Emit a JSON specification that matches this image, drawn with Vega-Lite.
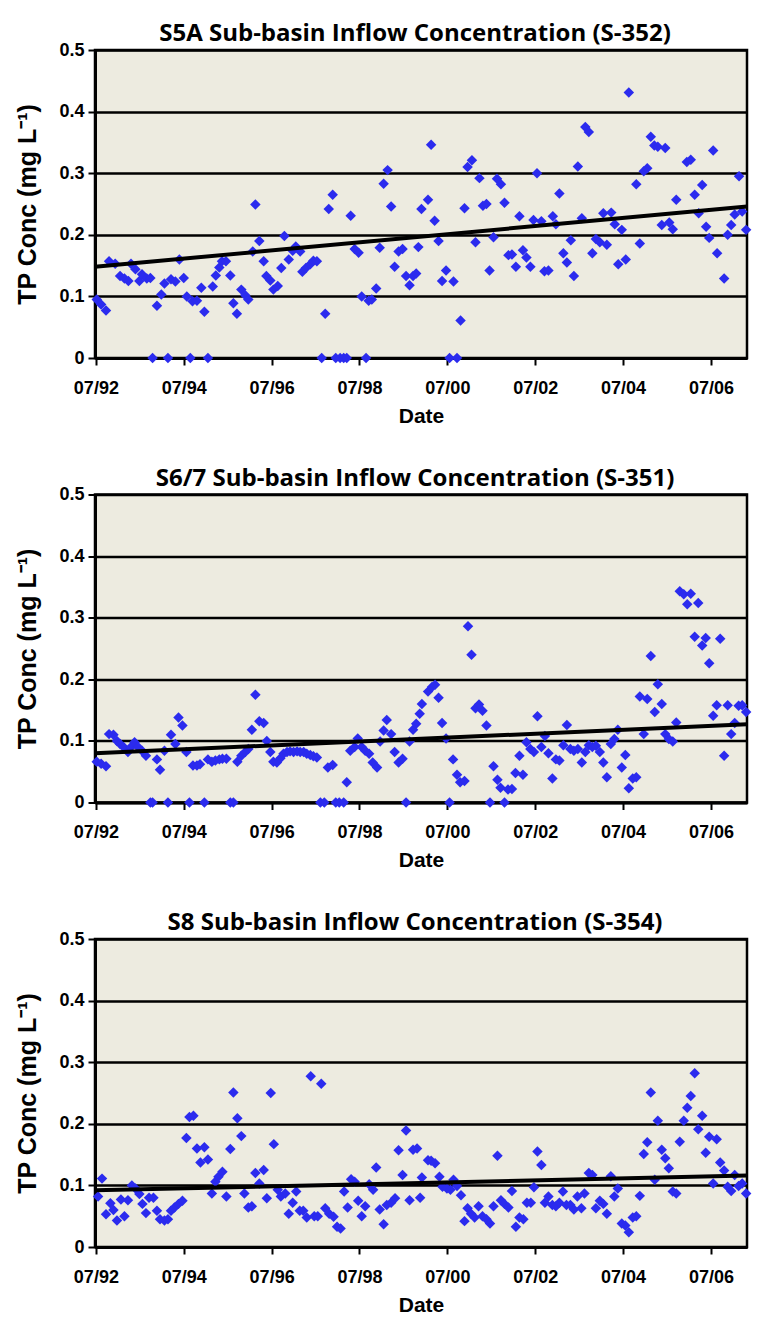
{
  "$schema": "https://vega.github.io/schema/vega-lite/v6.json",
  "background": "white",
  "padding": {"left": 14, "top": 20, "right": 0, "bottom": 0},
  "spacing": 36.5,
  "datasets": {
    "s5a": [
      {"yr":1992.52,"tp":0.095},{"yr":1992.62,"tp":0.087},{"yr":1992.73,"tp":0.077},{"yr":1992.80,"tp":0.157},{"yr":1992.94,"tp":0.153},
      {"yr":1993.05,"tp":0.133},{"yr":1993.15,"tp":0.129},{"yr":1993.24,"tp":0.125},{"yr":1993.30,"tp":0.153},{"yr":1993.40,"tp":0.144},
      {"yr":1993.49,"tp":0.125},{"yr":1993.55,"tp":0.136},{"yr":1993.66,"tp":0.129},{"yr":1993.74,"tp":0.13},{"yr":1993.79,"tp":0},
      {"yr":1993.89,"tp":0.085},{"yr":1993.99,"tp":0.103},{"yr":1994.06,"tp":0.121},{"yr":1994.14,"tp":0},{"yr":1994.21,"tp":0.128},
      {"yr":1994.31,"tp":0.124},{"yr":1994.40,"tp":0.16},{"yr":1994.50,"tp":0.13},{"yr":1994.57,"tp":0.10},{"yr":1994.65,"tp":0},
      {"yr":1994.70,"tp":0.092},{"yr":1994.80,"tp":0.093},{"yr":1994.90,"tp":0.114},{"yr":1994.97,"tp":0.075},{"yr":1995.05,"tp":0},
      {"yr":1995.16,"tp":0.116},{"yr":1995.23,"tp":0.134},{"yr":1995.31,"tp":0.147},{"yr":1995.37,"tp":0.157},{"yr":1995.46,"tp":0.157},
      {"yr":1995.56,"tp":0.134},{"yr":1995.63,"tp":0.089},{"yr":1995.71,"tp":0.072},{"yr":1995.81,"tp":0.111},{"yr":1995.90,"tp":0.102},
      {"yr":1995.97,"tp":0.095},{"yr":1996.07,"tp":0.173},{"yr":1996.13,"tp":0.249},{"yr":1996.22,"tp":0.19},{"yr":1996.32,"tp":0.157},
      {"yr":1996.38,"tp":0.133},{"yr":1996.47,"tp":0.126},{"yr":1996.54,"tp":0.111},{"yr":1996.64,"tp":0.117},{"yr":1996.72,"tp":0.146},
      {"yr":1996.79,"tp":0.198},{"yr":1996.89,"tp":0.16},{"yr":1996.98,"tp":0.174},{"yr":1997.05,"tp":0.181},{"yr":1997.15,"tp":0.173},
      {"yr":1997.20,"tp":0.14},{"yr":1997.28,"tp":0.146},{"yr":1997.38,"tp":0.152},{"yr":1997.45,"tp":0.158},{"yr":1997.53,"tp":0.157},
      {"yr":1997.64,"tp":0},{"yr":1997.72,"tp":0.072},{"yr":1997.80,"tp":0.242},{"yr":1997.89,"tp":0.265},{"yr":1997.96,"tp":0},
      {"yr":1998.06,"tp":0},{"yr":1998.14,"tp":0},{"yr":1998.21,"tp":0},{"yr":1998.30,"tp":0.231},{"yr":1998.39,"tp":0.177},
      {"yr":1998.48,"tp":0.171},{"yr":1998.55,"tp":0.10},{"yr":1998.65,"tp":0},{"yr":1998.71,"tp":0.093},{"yr":1998.78,"tp":0.095},
      {"yr":1998.88,"tp":0.113},{"yr":1998.96,"tp":0.179},{"yr":1999.05,"tp":0.283},{"yr":1999.14,"tp":0.305},{"yr":1999.22,"tp":0.246},
      {"yr":1999.30,"tp":0.148},{"yr":1999.39,"tp":0.173},{"yr":1999.48,"tp":0.177},{"yr":1999.56,"tp":0.133},{"yr":1999.64,"tp":0.118},
      {"yr":1999.72,"tp":0.133},{"yr":1999.79,"tp":0.137},{"yr":1999.84,"tp":0.18},{"yr":1999.91,"tp":0.242},
      {"yr":2000.06,"tp":0.257},{"yr":2000.13,"tp":0.346},{"yr":2000.21,"tp":0.223},{"yr":2000.30,"tp":0.19},{"yr":2000.38,"tp":0.125},
      {"yr":2000.47,"tp":0.142},{"yr":2000.55,"tp":0},{"yr":2000.64,"tp":0.124},{"yr":2000.72,"tp":0},{"yr":2000.80,"tp":0.061},
      {"yr":2000.89,"tp":0.243},{"yr":2000.96,"tp":0.31},{"yr":2001.06,"tp":0.321},{"yr":2001.14,"tp":0.188},{"yr":2001.23,"tp":0.292},
      {"yr":2001.31,"tp":0.247},{"yr":2001.39,"tp":0.25},{"yr":2001.46,"tp":0.142},{"yr":2001.55,"tp":0.196},{"yr":2001.63,"tp":0.291},
      {"yr":2001.72,"tp":0.282},{"yr":2001.80,"tp":0.252},{"yr":2001.89,"tp":0.167},{"yr":2001.97,"tp":0.168},{"yr":2002.06,"tp":0.148},
      {"yr":2002.14,"tp":0.23},{"yr":2002.22,"tp":0.175},{"yr":2002.30,"tp":0.163},{"yr":2002.39,"tp":0.148},{"yr":2002.46,"tp":0.224},
      {"yr":2002.54,"tp":0.30},{"yr":2002.64,"tp":0.222},{"yr":2002.71,"tp":0.141},{"yr":2002.80,"tp":0.142},{"yr":2002.90,"tp":0.23},
      {"yr":2002.97,"tp":0.217},{"yr":2003.05,"tp":0.267},{"yr":2003.14,"tp":0.17},{"yr":2003.22,"tp":0.155},{"yr":2003.31,"tp":0.191},
      {"yr":2003.38,"tp":0.133},{"yr":2003.47,"tp":0.311},{"yr":2003.56,"tp":0.227},{"yr":2003.64,"tp":0.375},{"yr":2003.72,"tp":0.367},
      {"yr":2003.80,"tp":0.17},{"yr":2003.88,"tp":0.193},{"yr":2003.97,"tp":0.188},{"yr":2004.05,"tp":0.235},{"yr":2004.13,"tp":0.184},
      {"yr":2004.23,"tp":0.236},{"yr":2004.31,"tp":0.217},{"yr":2004.39,"tp":0.152},{"yr":2004.47,"tp":0.208},{"yr":2004.56,"tp":0.16},
      {"yr":2004.63,"tp":0.431},{"yr":2004.80,"tp":0.282},{"yr":2004.88,"tp":0.186},{"yr":2004.97,"tp":0.303},{"yr":2005.05,"tp":0.308},
      {"yr":2005.13,"tp":0.359},{"yr":2005.21,"tp":0.345},{"yr":2005.29,"tp":0.343},{"yr":2005.38,"tp":0.216},{"yr":2005.46,"tp":0.341},
      {"yr":2005.55,"tp":0.22},{"yr":2005.63,"tp":0.209},{"yr":2005.71,"tp":0.257},{"yr":2005.95,"tp":0.318},{"yr":2006.04,"tp":0.322},
      {"yr":2006.13,"tp":0.265},{"yr":2006.22,"tp":0.235},{"yr":2006.30,"tp":0.281},{"yr":2006.39,"tp":0.213},{"yr":2006.46,"tp":0.195},
      {"yr":2006.55,"tp":0.337},{"yr":2006.64,"tp":0.17},{"yr":2006.80,"tp":0.129},{"yr":2006.88,"tp":0.2},{"yr":2006.96,"tp":0.216},
      {"yr":2007.04,"tp":0.233},{"yr":2007.14,"tp":0.295},{"yr":2007.21,"tp":0.238},{"yr":2007.30,"tp":0.208}
    ],
    "s67": [
      {"yr":1992.52,"tp":0.066},{"yr":1992.62,"tp":0.063},{"yr":1992.73,"tp":0.059},{"yr":1992.80,"tp":0.111},{"yr":1992.90,"tp":0.11},
      {"yr":1992.98,"tp":0.10},{"yr":1993.05,"tp":0.095},{"yr":1993.13,"tp":0.09},{"yr":1993.23,"tp":0.082},{"yr":1993.30,"tp":0.09},
      {"yr":1993.38,"tp":0.098},{"yr":1993.46,"tp":0.09},{"yr":1993.55,"tp":0.084},{"yr":1993.64,"tp":0.076},{"yr":1993.74,"tp":0},
      {"yr":1993.79,"tp":0},{"yr":1993.89,"tp":0.07},{"yr":1993.96,"tp":0.053},{"yr":1994.06,"tp":0.084},{"yr":1994.14,"tp":0},
      {"yr":1994.21,"tp":0.11},{"yr":1994.31,"tp":0.095},{"yr":1994.38,"tp":0.138},{"yr":1994.47,"tp":0.125},{"yr":1994.56,"tp":0.082},
      {"yr":1994.63,"tp":0},{"yr":1994.71,"tp":0.06},{"yr":1994.80,"tp":0.06},{"yr":1994.87,"tp":0.062},{"yr":1994.97,"tp":0},
      {"yr":1995.05,"tp":0.07},{"yr":1995.14,"tp":0.066},{"yr":1995.22,"tp":0.068},{"yr":1995.31,"tp":0.07},{"yr":1995.38,"tp":0.071},
      {"yr":1995.47,"tp":0.071},{"yr":1995.56,"tp":0},{"yr":1995.63,"tp":0},{"yr":1995.72,"tp":0.066},{"yr":1995.81,"tp":0.076},
      {"yr":1995.90,"tp":0.082},{"yr":1995.97,"tp":0.087},{"yr":1996.05,"tp":0.118},{"yr":1996.13,"tp":0.175},{"yr":1996.22,"tp":0.132},
      {"yr":1996.32,"tp":0.129},{"yr":1996.39,"tp":0.10},{"yr":1996.47,"tp":0.082},{"yr":1996.54,"tp":0.066},{"yr":1996.62,"tp":0.065},
      {"yr":1996.70,"tp":0.072},{"yr":1996.77,"tp":0.079},{"yr":1996.85,"tp":0.082},{"yr":1996.92,"tp":0.083},{"yr":1997.00,"tp":0.082},
      {"yr":1997.08,"tp":0.083},{"yr":1997.15,"tp":0.082},{"yr":1997.23,"tp":0.082},{"yr":1997.30,"tp":0.079},{"yr":1997.38,"tp":0.077},
      {"yr":1997.45,"tp":0.075},{"yr":1997.53,"tp":0.073},{"yr":1997.61,"tp":0},{"yr":1997.70,"tp":0},{"yr":1997.78,"tp":0.057},
      {"yr":1997.89,"tp":0.061},{"yr":1997.96,"tp":0},{"yr":1998.04,"tp":0},{"yr":1998.14,"tp":0},{"yr":1998.21,"tp":0.033},
      {"yr":1998.29,"tp":0.084},{"yr":1998.39,"tp":0.09},{"yr":1998.46,"tp":0.104},{"yr":1998.55,"tp":0.09},{"yr":1998.63,"tp":0.084},
      {"yr":1998.72,"tp":0.079},{"yr":1998.80,"tp":0.065},{"yr":1998.90,"tp":0.057},{"yr":1998.97,"tp":0.099},{"yr":1999.05,"tp":0.117},
      {"yr":1999.12,"tp":0.134},{"yr":1999.22,"tp":0.111},{"yr":1999.30,"tp":0.082},{"yr":1999.39,"tp":0.065},{"yr":1999.48,"tp":0.071},
      {"yr":1999.56,"tp":0},{"yr":1999.64,"tp":0.099},{"yr":1999.72,"tp":0.118},{"yr":1999.79,"tp":0.128},{"yr":1999.87,"tp":0.144},
      {"yr":1999.92,"tp":0.16},{"yr":2000.06,"tp":0.18},{"yr":2000.15,"tp":0.1875},{"yr":2000.22,"tp":0.191},{"yr":2000.30,"tp":0.17},
      {"yr":2000.38,"tp":0.129},{"yr":2000.47,"tp":0.104},{"yr":2000.55,"tp":0},{"yr":2000.63,"tp":0.07},{"yr":2000.72,"tp":0.045},
      {"yr":2000.79,"tp":0.033},{"yr":2000.89,"tp":0.035},{"yr":2000.97,"tp":0.286},{"yr":2001.05,"tp":0.24},{"yr":2001.14,"tp":0.153},
      {"yr":2001.22,"tp":0.159},{"yr":2001.30,"tp":0.149},{"yr":2001.39,"tp":0.125},{"yr":2001.47,"tp":0},{"yr":2001.55,"tp":0.059},
      {"yr":2001.64,"tp":0.037},{"yr":2001.71,"tp":0.024},{"yr":2001.80,"tp":0},{"yr":2001.88,"tp":0.021},{"yr":2001.97,"tp":0.022},
      {"yr":2002.05,"tp":0.048},{"yr":2002.14,"tp":0.076},{"yr":2002.22,"tp":0.045},{"yr":2002.30,"tp":0.098},{"yr":2002.39,"tp":0.087},
      {"yr":2002.47,"tp":0.082},{"yr":2002.55,"tp":0.14},{"yr":2002.64,"tp":0.09},{"yr":2002.72,"tp":0.108},{"yr":2002.80,"tp":0.08},
      {"yr":2002.89,"tp":0.039},{"yr":2002.97,"tp":0.07},{"yr":2003.05,"tp":0.068},{"yr":2003.14,"tp":0.093},{"yr":2003.22,"tp":0.126},
      {"yr":2003.30,"tp":0.087},{"yr":2003.38,"tp":0.084},{"yr":2003.47,"tp":0.087},{"yr":2003.56,"tp":0.065},{"yr":2003.64,"tp":0.082},
      {"yr":2003.72,"tp":0.093},{"yr":2003.80,"tp":0.09},{"yr":2003.88,"tp":0.092},{"yr":2003.97,"tp":0.082},{"yr":2004.05,"tp":0.065},
      {"yr":2004.13,"tp":0.041},{"yr":2004.22,"tp":0.095},{"yr":2004.30,"tp":0.103},{"yr":2004.38,"tp":0.118},{"yr":2004.47,"tp":0.057},
      {"yr":2004.55,"tp":0.077},{"yr":2004.63,"tp":0.023},{"yr":2004.72,"tp":0.039},{"yr":2004.80,"tp":0.041},{"yr":2004.88,"tp":0.172},
      {"yr":2004.97,"tp":0.111},{"yr":2005.05,"tp":0.168},{"yr":2005.13,"tp":0.238},{"yr":2005.22,"tp":0.147},{"yr":2005.29,"tp":0.192},
      {"yr":2005.38,"tp":0.16},{"yr":2005.46,"tp":0.111},{"yr":2005.54,"tp":0.103},{"yr":2005.63,"tp":0.099},{"yr":2005.71,"tp":0.13},
      {"yr":2005.79,"tp":0.343},{"yr":2005.88,"tp":0.338},{"yr":2005.96,"tp":0.322},{"yr":2006.04,"tp":0.339},{"yr":2006.13,"tp":0.269},
      {"yr":2006.21,"tp":0.324},{"yr":2006.30,"tp":0.255},{"yr":2006.38,"tp":0.267},{"yr":2006.46,"tp":0.226},{"yr":2006.55,"tp":0.141},
      {"yr":2006.63,"tp":0.158},{"yr":2006.71,"tp":0.266},{"yr":2006.80,"tp":0.076},{"yr":2006.88,"tp":0.158},{"yr":2006.96,"tp":0.111},
      {"yr":2007.04,"tp":0.129},{"yr":2007.13,"tp":0.157},{"yr":2007.21,"tp":0.158},{"yr":2007.30,"tp":0.147}
    ],
    "s8": [
      {"yr":1992.55,"tp":0.082},{"yr":1992.64,"tp":0.111},{"yr":1992.73,"tp":0.053},{"yr":1992.83,"tp":0.071},{"yr":1992.90,"tp":0.06},
      {"yr":1992.98,"tp":0.043},{"yr":1993.07,"tp":0.077},{"yr":1993.15,"tp":0.05},{"yr":1993.23,"tp":0.076},{"yr":1993.32,"tp":0.10},
      {"yr":1993.40,"tp":0.095},{"yr":1993.49,"tp":0.086},{"yr":1993.56,"tp":0.07},{"yr":1993.64,"tp":0.055},{"yr":1993.71,"tp":0.08},
      {"yr":1993.81,"tp":0.08},{"yr":1993.89,"tp":0.059},{"yr":1993.96,"tp":0.045},{"yr":1994.06,"tp":0.043},{"yr":1994.14,"tp":0.045},
      {"yr":1994.21,"tp":0.059},{"yr":1994.29,"tp":0.064},{"yr":1994.38,"tp":0.07},{"yr":1994.47,"tp":0.075},{"yr":1994.56,"tp":0.177},
      {"yr":1994.63,"tp":0.211},{"yr":1994.72,"tp":0.213},{"yr":1994.80,"tp":0.16},{"yr":1994.88,"tp":0.137},{"yr":1994.97,"tp":0.162},
      {"yr":1995.05,"tp":0.142},{"yr":1995.14,"tp":0.087},{"yr":1995.22,"tp":0.106},{"yr":1995.29,"tp":0.114},{"yr":1995.38,"tp":0.122},
      {"yr":1995.47,"tp":0.082},{"yr":1995.56,"tp":0.159},{"yr":1995.63,"tp":0.251},{"yr":1995.72,"tp":0.209},{"yr":1995.81,"tp":0.18},
      {"yr":1995.88,"tp":0.087},{"yr":1995.97,"tp":0.064},{"yr":1996.05,"tp":0.066},{"yr":1996.13,"tp":0.12},{"yr":1996.22,"tp":0.103},
      {"yr":1996.32,"tp":0.125},{"yr":1996.39,"tp":0.079},{"yr":1996.48,"tp":0.25},{"yr":1996.55,"tp":0.167},{"yr":1996.64,"tp":0.093},
      {"yr":1996.71,"tp":0.082},{"yr":1996.81,"tp":0.087},{"yr":1996.89,"tp":0.054},{"yr":1996.98,"tp":0.072},{"yr":1997.06,"tp":0.09},
      {"yr":1997.14,"tp":0.059},{"yr":1997.22,"tp":0.059},{"yr":1997.30,"tp":0.048},{"yr":1997.39,"tp":0.277},{"yr":1997.47,"tp":0.05},
      {"yr":1997.55,"tp":0.05},{"yr":1997.63,"tp":0.265},{"yr":1997.72,"tp":0.063},{"yr":1997.81,"tp":0.054},{"yr":1997.91,"tp":0.049},
      {"yr":1997.99,"tp":0.033},{"yr":1998.07,"tp":0.03},{"yr":1998.15,"tp":0.09},{"yr":1998.23,"tp":0.064},{"yr":1998.31,"tp":0.11},
      {"yr":1998.39,"tp":0.106},{"yr":1998.47,"tp":0.075},{"yr":1998.55,"tp":0.05},{"yr":1998.63,"tp":0.066},{"yr":1998.72,"tp":0.102},
      {"yr":1998.81,"tp":0.093},{"yr":1998.88,"tp":0.129},{"yr":1998.96,"tp":0.061},{"yr":1999.05,"tp":0.037},{"yr":1999.12,"tp":0.068},
      {"yr":1999.22,"tp":0.072},{"yr":1999.31,"tp":0.079},{"yr":1999.39,"tp":0.157},{"yr":1999.48,"tp":0.117},{"yr":1999.56,"tp":0.189},
      {"yr":1999.64,"tp":0.076},{"yr":1999.72,"tp":0.158},{"yr":1999.81,"tp":0.16},{"yr":1999.88,"tp":0.08},{"yr":1999.92,"tp":0.113},
      {"yr":2000.06,"tp":0.141},{"yr":2000.13,"tp":0.14},{"yr":2000.22,"tp":0.136},{"yr":2000.32,"tp":0.114},{"yr":2000.39,"tp":0.098},
      {"yr":2000.49,"tp":0.095},{"yr":2000.57,"tp":0.093},{"yr":2000.64,"tp":0.109},{"yr":2000.72,"tp":0.099},{"yr":2000.81,"tp":0.084},
      {"yr":2000.89,"tp":0.042},{"yr":2000.96,"tp":0.063},{"yr":2001.04,"tp":0.054},{"yr":2001.12,"tp":0.048},{"yr":2001.21,"tp":0.066},
      {"yr":2001.30,"tp":0.05},{"yr":2001.39,"tp":0.045},{"yr":2001.47,"tp":0.038},{"yr":2001.55,"tp":0.066},{"yr":2001.64,"tp":0.148},
      {"yr":2001.72,"tp":0.076},{"yr":2001.80,"tp":0.07},{"yr":2001.89,"tp":0.064},{"yr":2001.97,"tp":0.091},{"yr":2002.06,"tp":0.033},
      {"yr":2002.14,"tp":0.048},{"yr":2002.23,"tp":0.045},{"yr":2002.31,"tp":0.072},{"yr":2002.40,"tp":0.072},{"yr":2002.47,"tp":0.097},
      {"yr":2002.55,"tp":0.155},{"yr":2002.64,"tp":0.133},{"yr":2002.72,"tp":0.072},{"yr":2002.80,"tp":0.082},{"yr":2002.89,"tp":0.068},
      {"yr":2002.97,"tp":0.066},{"yr":2003.05,"tp":0.072},{"yr":2003.13,"tp":0.09},{"yr":2003.21,"tp":0.068},{"yr":2003.30,"tp":0.068},
      {"yr":2003.38,"tp":0.061},{"yr":2003.46,"tp":0.082},{"yr":2003.55,"tp":0.063},{"yr":2003.62,"tp":0.087},{"yr":2003.72,"tp":0.12},
      {"yr":2003.80,"tp":0.117},{"yr":2003.88,"tp":0.063},{"yr":2003.97,"tp":0.075},{"yr":2004.05,"tp":0.07},{"yr":2004.13,"tp":0.054},
      {"yr":2004.22,"tp":0.115},{"yr":2004.30,"tp":0.082},{"yr":2004.38,"tp":0.095},{"yr":2004.47,"tp":0.038},{"yr":2004.55,"tp":0.035},
      {"yr":2004.63,"tp":0.024},{"yr":2004.72,"tp":0.048},{"yr":2004.80,"tp":0.05},{"yr":2004.88,"tp":0.083},{"yr":2004.97,"tp":0.151},
      {"yr":2005.05,"tp":0.17},{"yr":2005.13,"tp":0.251},{"yr":2005.22,"tp":0.109},{"yr":2005.29,"tp":0.205},{"yr":2005.38,"tp":0.158},
      {"yr":2005.46,"tp":0.144},{"yr":2005.54,"tp":0.128},{"yr":2005.63,"tp":0.09},{"yr":2005.71,"tp":0.087},{"yr":2005.79,"tp":0.171},
      {"yr":2005.88,"tp":0.205},{"yr":2005.96,"tp":0.226},{"yr":2006.04,"tp":0.245},{"yr":2006.13,"tp":0.282},{"yr":2006.21,"tp":0.191},
      {"yr":2006.30,"tp":0.213},{"yr":2006.38,"tp":0.153},{"yr":2006.46,"tp":0.179},{"yr":2006.55,"tp":0.103},{"yr":2006.63,"tp":0.175},
      {"yr":2006.71,"tp":0.137},{"yr":2006.80,"tp":0.124},{"yr":2006.88,"tp":0.098},{"yr":2006.96,"tp":0.091},{"yr":2007.04,"tp":0.117},
      {"yr":2007.13,"tp":0.099},{"yr":2007.21,"tp":0.103},{"yr":2007.30,"tp":0.087}
    ],
    "trend": [
      {"panel":"s5a","yr":1992.48,"tp":0.148},{"panel":"s5a","yr":2007.32,"tp":0.246},
      {"panel":"s67","yr":1992.48,"tp":0.080},{"panel":"s67","yr":2007.32,"tp":0.127},
      {"panel":"s8","yr":1992.48,"tp":0.092},{"panel":"s8","yr":2007.32,"tp":0.116}
    ]
  },
  "vconcat": [
    {
      "width": 652, "height": 308,
      "title": {"text": "S5A Sub-basin Inflow Concentration (S-352)"},
      "encoding": {
        "x": {"field": "yr", "type": "quantitative", "title": "Date", "scale": {"domain": [1992.48, 2007.32], "nice": false, "zero": false}, "axis": {"values": [1992.5, 1994.5, 1996.5, 1998.5, 2000.5, 2002.5, 2004.5, 2006.5], "labelExpr": "'07/' + format(floor(datum.value) % 100, '02d')"}},
        "y": {"field": "tp", "type": "quantitative", "title": "TP Conc (mg L⁻¹)", "scale": {"domain": [0, 0.5], "nice": false}, "axis": {"values": [0, 0.1, 0.2, 0.3, 0.4, 0.5], "labelExpr": "datum.value == 0 ? '0' : format(datum.value, '.1f')"}}
      },
      "layer": [
        {"data": {"name": "s5a"}, "mark": {"type": "point", "shape": "diamond", "filled": true, "size": 110, "color": "#2B2BEE", "opacity": 1}},
        {"data": {"name": "trend"}, "transform": [{"filter": "datum.panel === 's5a'"}], "mark": {"type": "line", "color": "black", "strokeWidth": 4}}
      ]
    },
    {
      "width": 652, "height": 308,
      "title": {"text": "S6/7 Sub-basin Inflow Concentration (S-351)"},
      "encoding": {
        "x": {"field": "yr", "type": "quantitative", "title": "Date", "scale": {"domain": [1992.48, 2007.32], "nice": false, "zero": false}, "axis": {"values": [1992.5, 1994.5, 1996.5, 1998.5, 2000.5, 2002.5, 2004.5, 2006.5], "labelExpr": "'07/' + format(floor(datum.value) % 100, '02d')"}},
        "y": {"field": "tp", "type": "quantitative", "title": "TP Conc (mg L⁻¹)", "scale": {"domain": [0, 0.5], "nice": false}, "axis": {"values": [0, 0.1, 0.2, 0.3, 0.4, 0.5], "labelExpr": "datum.value == 0 ? '0' : format(datum.value, '.1f')"}}
      },
      "layer": [
        {"data": {"name": "s67"}, "mark": {"type": "point", "shape": "diamond", "filled": true, "size": 110, "color": "#2B2BEE", "opacity": 1}},
        {"data": {"name": "trend"}, "transform": [{"filter": "datum.panel === 's67'"}], "mark": {"type": "line", "color": "black", "strokeWidth": 4}}
      ]
    },
    {
      "width": 652, "height": 308,
      "title": {"text": "S8 Sub-basin Inflow Concentration (S-354)"},
      "encoding": {
        "x": {"field": "yr", "type": "quantitative", "title": "Date", "scale": {"domain": [1992.48, 2007.32], "nice": false, "zero": false}, "axis": {"values": [1992.5, 1994.5, 1996.5, 1998.5, 2000.5, 2002.5, 2004.5, 2006.5], "labelExpr": "'07/' + format(floor(datum.value) % 100, '02d')"}},
        "y": {"field": "tp", "type": "quantitative", "title": "TP Conc (mg L⁻¹)", "scale": {"domain": [0, 0.5], "nice": false}, "axis": {"values": [0, 0.1, 0.2, 0.3, 0.4, 0.5], "labelExpr": "datum.value == 0 ? '0' : format(datum.value, '.1f')"}}
      },
      "layer": [
        {"data": {"name": "s8"}, "mark": {"type": "point", "shape": "diamond", "filled": true, "size": 110, "color": "#2B2BEE", "opacity": 1}},
        {"data": {"name": "trend"}, "transform": [{"filter": "datum.panel === 's8'"}], "mark": {"type": "line", "color": "black", "strokeWidth": 4}}
      ]
    }
  ],
  "config": {
    "view": {"fill": "#EDEBE0", "stroke": "black", "strokeWidth": 2.5},
    "axis": {"labelFont": "Liberation Sans", "labelFontWeight": "bold", "labelColor": "black", "titleFont": "Liberation Sans", "titleFontWeight": "bold", "titleColor": "black", "domainColor": "black", "domainWidth": 3, "tickColor": "black", "tickWidth": 2, "labelFlush": false, "labelOverlap": false},
    "axisX": {"labelFontSize": 18, "tickSize": 7, "labelPadding": 14, "titleFontSize": 21, "titlePadding": 8, "grid": false},
    "axisY": {"labelFontSize": 18, "tickSize": 7, "labelPadding": 4, "titleFontSize": 25, "titlePadding": 18, "grid": true, "gridColor": "black", "gridWidth": 2.5, "gridOpacity": 1},
    "title": {"font": "Open Sans", "fontSize": 24, "fontWeight": "bold", "color": "black", "offset": -5, "dx": -6, "anchor": "middle", "frame": "group"}
  }
}
